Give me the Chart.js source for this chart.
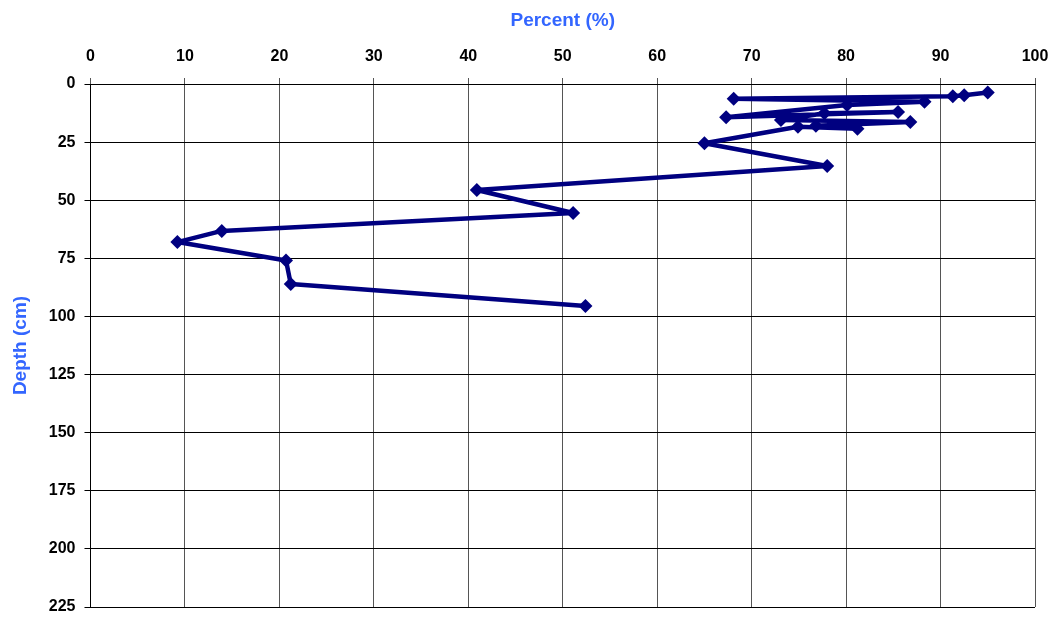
<!DOCTYPE html>
<html>
<head>
<meta charset="utf-8">
<script src="https://cdn.jsdelivr.net/npm/chart.js@4"></script>
<style>
    body { margin: 0; background: #ffffff; }
    #wrap { width: 1061px; height: 620px; }
</style>
</head>
<body>
<div id="wrap"><canvas id="depthChart" width="1061" height="620"></canvas></div>
<script>
const percentValues = [95.0, 92.5, 91.3, 68.1, 88.3, 80.1, 67.3, 85.5, 77.7, 73.1, 86.8, 76.8, 81.2, 74.9,
    65.0, 78.0, 40.9, 51.1, 13.9, 9.2, 20.7, 21.2, 52.4];
const depthValues = [3.7, 4.8, 5.3, 6.3, 7.6, 9.0, 14.3, 12.0, 12.6, 15.5, 16.3, 18.0, 19.3, 18.4,
    25.5, 35.3, 45.6, 55.5, 63.2, 68.0, 75.9, 86.0, 95.5];
const percentTicks = [0, 10, 20, 30, 40, 50, 60, 70, 80, 90, 100];
const depthTicks = [0, 25, 50, 75, 100, 125, 150, 175, 200, 225];

const points = percentValues.map((p, i) => ({ x: p, y: depthValues[i] }));

const tickFont = { family: '"Liberation Sans", Arial, sans-serif', size: 16, weight: 'bold' };
const titleFont = { family: '"Liberation Sans", Arial, sans-serif', size: 19, weight: 'bold' };

new Chart(document.getElementById('depthChart'), {
    type: 'scatter',
    data: {
        datasets: [{
            label: 'Percent',
            data: points,
            showLine: true,
            borderColor: '#000080',
            backgroundColor: '#000080',
            borderWidth: 4.5,
            borderJoinStyle: 'round',
            borderCapStyle: 'round',
            pointStyle: 'rectRot',
            pointRadius: 7,
            pointBorderWidth: 0,
            tension: 0
        }]
    },
    options: {
        responsive: false,
        animation: false,
        layout: {
            padding: { top: 0, right: 26, bottom: 0, left: 9 }
        },
        plugins: {
            legend: { display: false },
            tooltip: { enabled: false }
        },
        scales: {
            x: {
                type: 'linear',
                position: 'top',
                min: 0,
                max: 100,
                afterBuildTicks: axis => { axis.ticks = percentTicks.map(v => ({ value: v })); },
                // plot area starts 84px from the top, like the original
                afterFit: axis => { axis.height = 84; },
                grid: { color: '#555555', lineWidth: 1, tickLength: 6 },
                border: { color: '#000000', width: 1 },
                ticks: { color: '#000000', font: tickFont, padding: 12, maxRotation: 0 },
                title: { display: true, text: 'Percent (%)', color: '#3366ff', font: titleFont, padding: { top: 9, bottom: 10 } }
            },
            y: {
                type: 'linear',
                reverse: true,
                min: 0,
                max: 225,
                afterBuildTicks: axis => { axis.ticks = depthTicks.map(v => ({ value: v })); },
                afterFit: axis => { axis.paddingBottom = 13; axis.paddingTop = 0; },
                grid: { color: '#000000', lineWidth: 1, tickLength: 6 },
                border: { color: '#000000', width: 1 },
                ticks: { color: '#000000', font: tickFont, padding: 9 },
                title: { display: true, text: 'Depth (cm)', color: '#3366ff', font: titleFont, padding: { top: 0, bottom: 8 } }
            }
        }
    }
});
</script>
</body>
</html>
